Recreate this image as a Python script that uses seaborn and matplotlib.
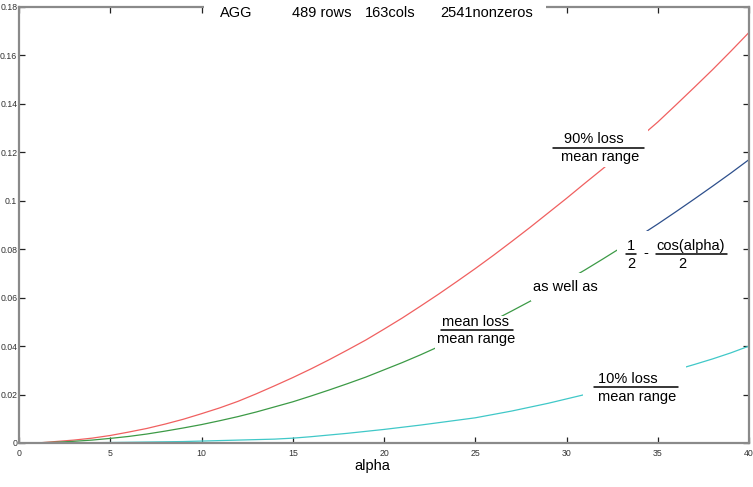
import numpy as np
import pandas as pd
import matplotlib
matplotlib.use("Agg")
import matplotlib.pyplot as plt
import seaborn as sns
from matplotlib.patches import Rectangle
from matplotlib.lines import Line2D

# ---------------- data ----------------
alpha = list(range(1, 41))
loss90 = [0.0000, 0.0006, 0.0012, 0.0020, 0.0031, 0.0045, 0.0060, 0.0078, 0.0098, 0.0121,
          0.0145, 0.0172, 0.0203, 0.0236, 0.0270, 0.0306, 0.0344, 0.0384, 0.0425, 0.0470,
          0.0516, 0.0565, 0.0615, 0.0667, 0.0720, 0.0775, 0.0832, 0.0890, 0.0950, 0.1010,
          0.1072, 0.1133, 0.1196, 0.1260, 0.1325, 0.1396, 0.1468, 0.1541, 0.1617, 0.1695]
loss_mean = [0.0001, 0.0003, 0.0007, 0.0012, 0.0019, 0.0027, 0.0037, 0.0049, 0.0062, 0.0076,
             0.0092, 0.0109, 0.0128, 0.0149, 0.0170, 0.0194, 0.0219, 0.0245, 0.0272, 0.0302,
             0.0332, 0.0364, 0.0398, 0.0432, 0.0468, 0.0506, 0.0545, 0.0585, 0.0627, 0.0670,
             0.0714, 0.0760, 0.0807, 0.0855]
alpha_cos = [34, 35, 36, 37, 38, 39, 40]
half_cos = [0.0855, 0.0904, 0.0955, 0.1007, 0.1060, 0.1114, 0.1170]
loss10 = [0.0000, 0.0000, 0.0001, 0.0001, 0.0002, 0.0003, 0.0004, 0.0005, 0.0006, 0.0008,
          0.0010, 0.0012, 0.0014, 0.0016, 0.0020, 0.0026, 0.0033, 0.0040, 0.0048, 0.0056,
          0.0065, 0.0074, 0.0084, 0.0094, 0.0104, 0.0118, 0.0132, 0.0148, 0.0164, 0.0182,
          0.0200, 0.0220, 0.0240, 0.0260, 0.0281, 0.0302, 0.0324, 0.0347, 0.0372, 0.0400]
xticks = [0, 5, 10, 15, 20, 25, 30, 35, 40]
yticks = [0, 0.02, 0.04, 0.06, 0.08, 0.1, 0.12, 0.14, 0.16, 0.18]
ytick_labels = ["0", "0.02", "0.04", "0.06", "0.08", "0.1", "0.12", "0.14", "0.16", "0.18"]

# ---------------- figure ----------------
sns.set_theme(style="white")
plt.rcParams["font.family"] = ["Liberation Sans", "DejaVu Sans"]

W, H = 753, 487
fig = plt.figure(figsize=(W / 100, H / 100), dpi=100)
fig.patch.set_facecolor("white")
L, R, T, B = 19, 749, 7, 443
ax = fig.add_axes([L / W, 1 - B / H, (R - L) / W, (B - T) / H])

df90 = pd.DataFrame({"alpha": alpha, "v": loss90})
dfm = pd.DataFrame({"alpha": alpha[:len(loss_mean)], "v": loss_mean})
dfc = pd.DataFrame({"alpha": alpha_cos, "v": half_cos})
df10 = pd.DataFrame({"alpha": alpha, "v": loss10})

sns.lineplot(data=df90, x="alpha", y="v", ax=ax, color="#f06060", lw=0.9)
sns.lineplot(data=dfm, x="alpha", y="v", ax=ax, color="#3c9a46", lw=0.9)
sns.lineplot(data=dfc, x="alpha", y="v", ax=ax, color="#2d4f8c", lw=0.9)
sns.lineplot(data=df10, x="alpha", y="v", ax=ax, color="#40c8c8", lw=0.9)

ax.set_xlim(0, 40)
ax.set_ylim(0, 0.18)
ax.set_xticks(xticks)
ax.set_xticklabels([str(t) for t in xticks])
ax.set_yticks(yticks)
ax.set_yticklabels(ytick_labels)
ax.set_xlabel("")
ax.set_ylabel("")
for s in ax.spines.values():
    s.set_visible(True)
    s.set_color("#8a8a8a")
    s.set_linewidth(1.6)
ax.tick_params(axis="both", which="both", direction="in", length=4.5, width=0.9,
               color="#222222", top=True, right=True, bottom=True, left=True,
               labelsize=6.3, labelcolor="#333333")
ax.tick_params(axis="x", pad=4)
ax.tick_params(axis="y", pad=1.2)


def fx(px):
    return px / W


def fy(py):
    return 1 - py / H


def white_box(x0, y0, x1, y1):
    fig.patches.append(Rectangle((fx(x0), fy(y1)), fx(x1) - fx(x0), fy(y0) - fy(y1),
                                 transform=fig.transFigure, facecolor="white",
                                 edgecolor="none", zorder=1))


def bar(x0, x1, y):
    fig.lines.append(Line2D([fx(x0), fx(x1)], [fy(y), fy(y)], transform=fig.transFigure,
                            color="black", lw=1.1, zorder=2))


def txt(x, y, s, ha="center", size=10.5):
    fig.text(fx(x), fy(y), s, ha=ha, va="center", fontsize=size, color="black", zorder=3)


# title
white_box(204, 1, 546, 22)
txt(220, 13, "AGG", ha="left")
txt(292, 13, "489 rows", ha="left")
txt(365, 13, "163cols", ha="left")
txt(440, 13, "2541nonzeros", ha="left")

# 90% loss / mean range
white_box(552, 127, 648, 167)
txt(594, 139, "90% loss")
bar(553, 644, 148)
txt(600, 157, "mean range")

# 1/2 - cos(alpha)/2
white_box(617, 231, 732, 274)
txt(631, 246, "1")
bar(626, 636, 254)
txt(631, 264, "2")
txt(646, 253, "-")
txt(691, 246, "cos(alpha)")
bar(656, 727, 254)
txt(682, 264, "2")

# as well as
white_box(531, 273, 600, 301)
txt(565, 287, "as well as")

# mean loss / mean range
white_box(435, 316, 518, 350)
txt(476, 322, "mean loss")
bar(441, 513, 330)
txt(476, 339, "mean range")

# 10% loss / mean range
white_box(583, 366, 686, 408)
txt(628, 379, "10% loss")
bar(594, 678, 387)
txt(637, 397, "mean range")

# x label
txt(372, 466, "alpha")

fig.savefig("out.png", dpi=100, facecolor="white")
